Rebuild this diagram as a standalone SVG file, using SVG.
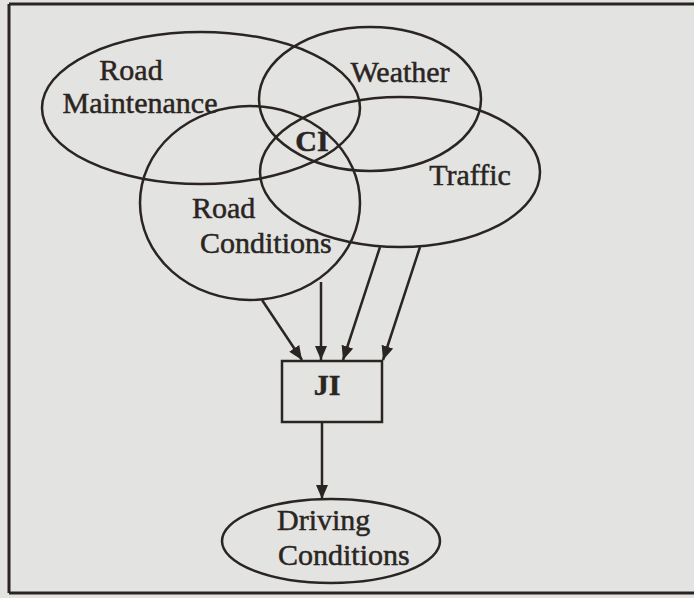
<svg xmlns="http://www.w3.org/2000/svg" width="694" height="598" viewBox="0 0 694 598">
<defs>
<marker id="ah" viewBox="0 0 14 12" refX="14" refY="6" markerWidth="14" markerHeight="12" markerUnits="userSpaceOnUse" orient="auto">
<path d="M0,0 L14,6 L0,12 Z" fill="#2a2522"/>
</marker>
<style>
.sh{fill:none;stroke:#2a2522;stroke-width:2.5}
.t{font-family:"Liberation Serif","Times New Roman",serif;font-size:30px;fill:#2a2522;stroke:#2a2522;stroke-width:0.5}
.b{font-weight:bold}
.c{stroke:#2a2522;stroke-width:2.5;fill:none;marker-end:url(#ah)}
</style>
</defs>
<rect x="0" y="0" width="694" height="598" fill="#e3e3e1"/>
<g id="frame">
<path d="M9,4 H694 M9,4 V593 M9,593 H694" fill="none" stroke="#2a2522" stroke-width="3"/>
</g>
<g id="road-maintenance">
<ellipse class="sh" cx="201" cy="108" rx="159" ry="76"/>
<text class="t" x="131" y="80" text-anchor="middle">Road</text>
<text class="t" x="140" y="113" text-anchor="middle">Maintenance</text>
</g>
<g id="weather">
<ellipse class="sh" cx="370" cy="99" rx="111" ry="72"/>
<text class="t" x="400" y="82" text-anchor="middle">Weather</text>
</g>
<g id="traffic">
<ellipse class="sh" cx="400" cy="172" rx="140" ry="75"/>
<text class="t" x="470" y="185" text-anchor="middle">Traffic</text>
</g>
<g id="road-conditions">
<ellipse class="sh" cx="250" cy="203" rx="110" ry="97"/>
<text class="t" x="192" y="218">Road</text>
<text class="t" x="200" y="253">Conditions</text>
</g>
<g id="ci">
<text class="t b" x="312" y="151" text-anchor="middle" font-size="32">CI</text>
</g>
<g id="ji">
<rect class="sh" x="282" y="361" width="100" height="61"/>
<text class="t b" x="327" y="395" text-anchor="middle">JI</text>
</g>
<g id="driving-conditions">
<ellipse class="sh" cx="331" cy="541" rx="109" ry="42"/>
<text class="t" x="277" y="530">Driving</text>
<text class="t" x="278" y="565">Conditions</text>
</g>
<g id="connectors">
<line class="c" x1="262" y1="300" x2="302" y2="360"/>
<line class="c" x1="321" y1="282" x2="321" y2="360"/>
<line class="c" x1="380" y1="247" x2="343" y2="360"/>
<line class="c" x1="420" y1="247" x2="383" y2="360"/>
<line class="c" x1="322" y1="422" x2="322" y2="499"/>
</g>
</svg>
